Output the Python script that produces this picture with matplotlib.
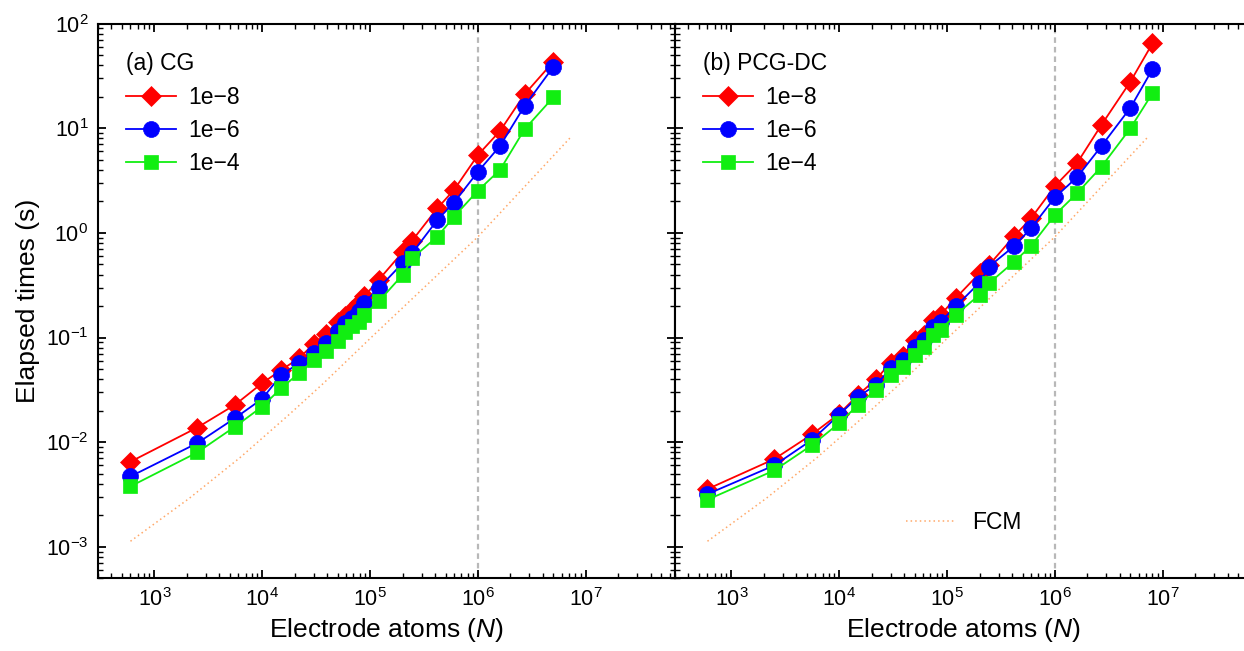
import numpy as np
import matplotlib
matplotlib.use('Agg')
from matplotlib import pyplot as plt
from matplotlib.ticker import LogLocator, LogFormatterMathtext, NullFormatter

plt.rcParams['font.family'] = ['Liberation Sans', 'DejaVu Sans']
plt.rcParams['mathtext.fontset'] = 'custom'
plt.rcParams['mathtext.rm'] = 'Liberation Sans'
plt.rcParams['mathtext.it'] = 'Liberation Sans:italic'

# (a) CG
n_cg = [600, 2500, 5600, 10000, 15000, 22000, 30000, 39000, 50000, 58000, 68000, 78000, 88000,
        120000, 200000, 245000, 420000, 600000, 1e6, 1.6e6, 2.7e6, 5e6]
cg_1e8 = [6.5e-3, 0.0138, 0.0228, 0.0367, 0.049, 0.0635, 0.087, 0.108, 0.142, 0.161, 0.184, 0.213, 0.247,
          0.356, 0.654, 0.843, 1.72, 2.58, 5.56, 9.42, 21.1, 43.3]
cg_1e6 = [4.7e-3, 9.8e-3, 0.017, 0.026, 0.044, 0.0569, 0.071, 0.0884, 0.115, 0.137, 0.155, 0.18, 0.215,
          0.296, 0.514, 0.64, 1.33, 1.95, 3.85, 6.78, 16.3, 38.7]
cg_1e4 = [3.78e-3, 7.98e-3, 0.0141, 0.0219, 0.0329, 0.0457, 0.0612, 0.0751, 0.0935, 0.114, 0.128, 0.142, 0.165,
          0.221, 0.397, 0.573, 0.92, 1.43, 2.54, 4.0, 9.77, 19.8]

# (b) PCG-DC
n_dc = [600, 2500, 5600, 10000, 15000, 22000, 30000, 39000, 50000, 61000, 74000, 87000,
        120000, 200000, 245000, 420000, 600000, 1e6, 1.6e6, 2.7e6, 5e6, 8e6]
dc_1e8 = [3.56e-3, 6.9e-3, 0.0119, 0.0187, 0.0284, 0.040, 0.0577, 0.066, 0.095, 0.106, 0.148, 0.165,
          0.238, 0.412, 0.494, 0.935, 1.38, 2.81, 4.64, 10.8, 27.9, 64.6]
dc_1e6 = [3.19e-3, 6.0e-3, 0.01055, 0.0183, 0.0273, 0.0353, 0.051, 0.061, 0.082, 0.095, 0.127, 0.142,
          0.198, 0.335, 0.477, 0.751, 1.11, 2.19, 3.4, 6.78, 15.7, 36.6]
dc_1e4 = [2.82e-3, 5.37e-3, 9.4e-3, 0.0152, 0.0228, 0.0316, 0.044, 0.052, 0.0684, 0.082, 0.106, 0.119,
          0.165, 0.256, 0.331, 0.532, 0.751, 1.49, 2.39, 4.3, 10.0, 21.6]

# FCM reference
n_fcm = [600, 2100, 6200, 18000, 37000, 1e5, 1e6, 7.3e6]
t_fcm = [1.13e-3, 2.9e-3, 7.1e-3, 0.0186, 0.0366, 0.098, 0.92, 8.3]

tol_labels = ['1e\u22128', '1e\u22126', '1e\u22124']

W, H = 1244, 651
fig = plt.figure(figsize=(W / 100, H / 100), dpi=100)
ax1 = fig.add_axes([98 / W, 1 - 578.3 / H, 577 / W, 554.7 / H])
ax2 = fig.add_axes([675 / W, 1 - 578.3 / H, 577 / W, 554.7 / H])

styles = [dict(color='#ff0000', marker='D', markersize=10.5),
          dict(color='#0000ff', marker='o', markersize=11.5),
          dict(color='#11ee11', marker='s', markersize=10)]


def draw_panel(ax, n, series, title):
    ax.axvline(1e6, color='#b8b8b8', linestyle=(0, (2.5, 1.8)), linewidth=1.6, zorder=1)
    fcm, = ax.plot(n_fcm, t_fcm, color='#ffa868', linestyle=(0, (1, 2)), linewidth=1.1, zorder=1)
    handles = []
    for ys, st, lab in zip(series, styles, tol_labels):
        h, = ax.plot(n, ys, linewidth=1.3, markeredgewidth=0.5, label=lab, zorder=3, **st)
        handles.append(h)
    ax.set_xscale('log')
    ax.set_yscale('log')
    ax.set_xlim(300, 6.7e7)
    ax.set_ylim(5e-4, 100)
    for axis in (ax.xaxis, ax.yaxis):
        axis.set_major_locator(LogLocator(base=10, numticks=20))
        axis.set_minor_locator(LogLocator(base=10, subs=np.arange(2, 10), numticks=100))
        axis.set_minor_formatter(NullFormatter())
    ax.xaxis.set_major_formatter(LogFormatterMathtext())
    ax.tick_params(which='both', direction='in', top=True, right=True, labelsize=15.5)
    ax.tick_params(which='major', length=6, width=1.3, pad=7)
    ax.tick_params(which='minor', length=3.5, width=1.0)
    for sp in ax.spines.values():
        sp.set_linewidth(1.5)
    ax.set_xlabel('Electrode atoms ($N$)', fontsize=19, labelpad=4)
    leg = ax.legend(handles=handles, title=title, title_fontsize=16.5, fontsize=16.5,
                    loc='upper left', bbox_to_anchor=(0.048, 0.948), frameon=False,
                    alignment='left', borderpad=0, borderaxespad=0,
                    handlelength=2.2, handletextpad=0.55, labelspacing=0.44)
    return fcm, leg


draw_panel(ax1, n_cg, [cg_1e8, cg_1e6, cg_1e4], '(a) CG')
fcm, leg2 = draw_panel(ax2, n_dc, [dc_1e8, dc_1e6, dc_1e4], '(b) PCG-DC')

ax1.yaxis.set_major_formatter(LogFormatterMathtext())
ax1.set_ylabel('Elapsed times (s)', fontsize=19, labelpad=4)
ax2.tick_params(labelleft=False)

ax2.add_artist(leg2)
ax2.legend([fcm], ['FCM'], fontsize=16.5, loc='center left', bbox_to_anchor=(0.40, 0.10),
           frameon=False, borderpad=0, borderaxespad=0, handlelength=2.2, handletextpad=0.7)

fig.savefig('out.png', dpi=100)
